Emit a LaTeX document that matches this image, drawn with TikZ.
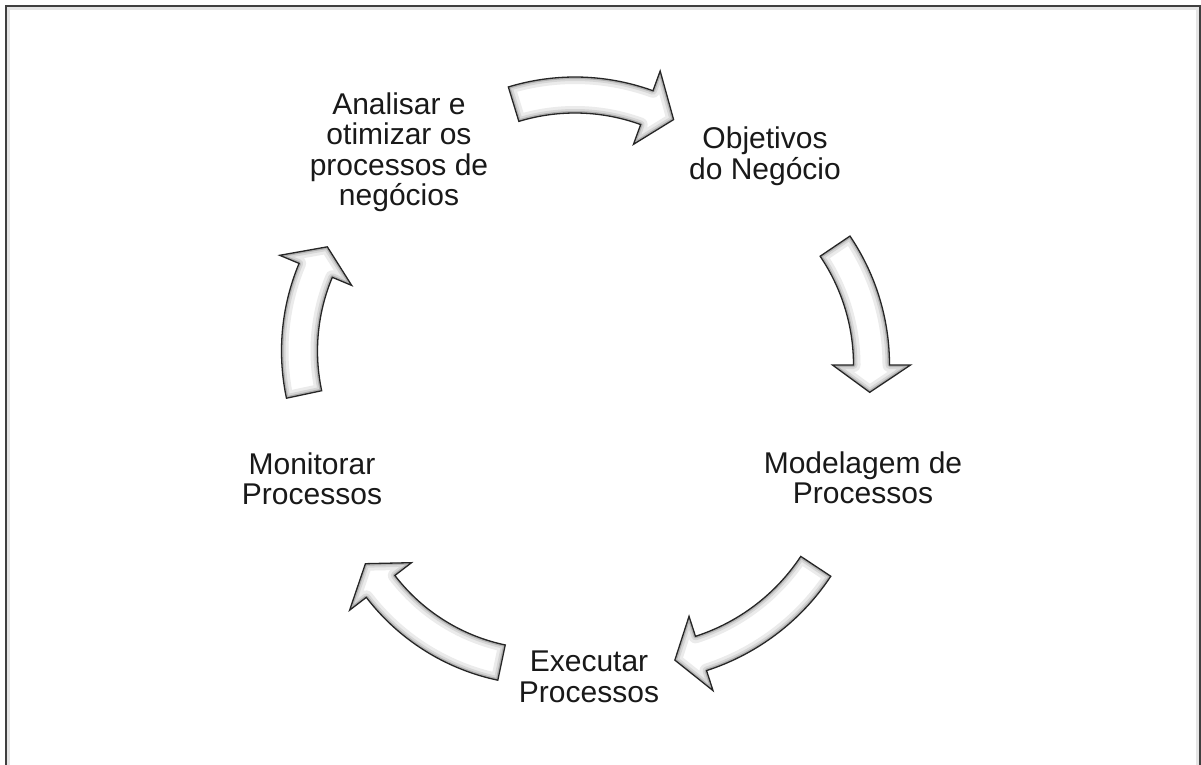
\documentclass[tikz,border=0pt]{standalone}
\usepackage{fontspec}
\setmainfont{Liberation Sans}
\begin{document}
% One unit is one pixel; y grows downwards.
\newcommand\arrowshape[4]{% #1 radius, #2 tail angle, #3 head base angle, #4 tip angle
  plot[domain=#2:#3, samples=40] (\x:#1+18) -- (#3:#1+39) -- (#4:#1)
  -- (#3:#1-39) -- plot[domain=#3:#2, samples=40] (\x:#1-18) -- cycle}
\newcommand\cyclearrow[6]{% #1,#2 centre of the bend
  \begin{scope}[shift={(#1,#2)}]
    \fill[white] \arrowshape{#3}{#4}{#5}{#6};
    \begin{scope}
      \clip \arrowshape{#3}{#4}{#5}{#6};
      \draw[glowwide] \arrowshape{#3}{#4}{#5}{#6};
      \draw[glowmid] \arrowshape{#3}{#4}{#5}{#6};
      \draw[glownarrow] \arrowshape{#3}{#4}{#5}{#6};
    \end{scope}
    \draw[arrowedge] \arrowshape{#3}{#4}{#5}{#6};
  \end{scope}}
\begin{tikzpicture}[x=1pt, y=-1pt,
  glowwide/.style={line width=14pt, black!8, line join=round},
  glowmid/.style={line width=8pt, black!16, line join=round},
  glownarrow/.style={line width=4pt, black!30, line join=round},
  arrowedge/.style={line width=1.3pt, black!85, line join=miter},
  label/.style={align=center, inner sep=0pt, text=black!90,
    font=\fontsize{30}{30.5}\selectfont}]
  \useasboundingbox (0,0) rectangle (1201,764);
  \fill[white] (0,0) rectangle (1201,764);
  \clip (0,0) rectangle (1201,764);
  % frame with a faint inner shadow
  \draw[black!10, line width=3pt] (8.5,850) -- (8.5,8.5) -- (1197,8.5) -- (1197,850);
  \draw[black!75, line width=2pt] (6,850) -- (6,6) -- (1199.5,6) -- (1199.5,850);

  % the five stages
  \node[label] (goals)   at (765,156) {Objetivos\\do Negócio};
  \node[label] (model)   at (863,478) {Modelagem de\\Processos};
  \node[label] (run)     at (589,677) {Executar\\Processos};
  \node[label] (watch)   at (312,479) {Monitorar\\Processos};
  \node[label] (improve) at (399,152) {Analisar e\\otimizar os\\processos de\\negócios};

  % curved arrows joining the stages clockwise
  \cyclearrow{575}{305}{210}{-107}{-70}{-62}
  \cyclearrow{659.5}{365}{212}{-34.1}{0}{7.4}
  \cyclearrow{634}{446}{218}{33.5}{72.1}{79.2}
  \cyclearrow{544}{461}{206}{101.9}{142.5}{150.1}
  \cyclearrow{508.5}{351}{209}{168}{202.7}{209.9}
\end{tikzpicture}
\end{document}
